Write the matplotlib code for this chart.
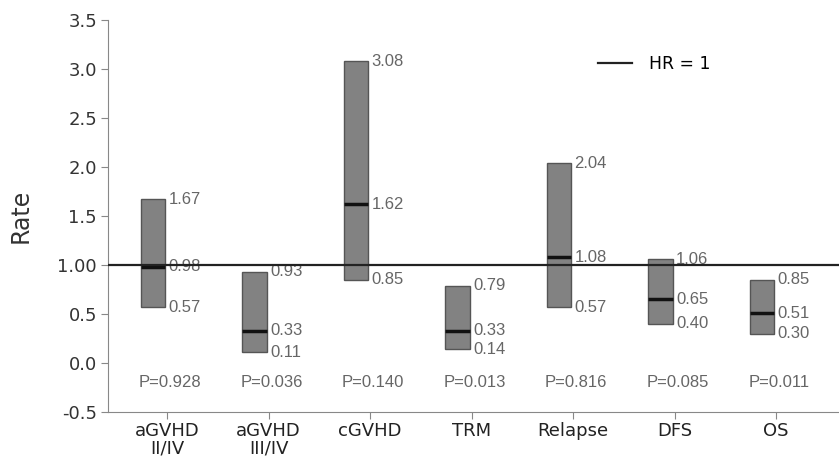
import matplotlib.pyplot as plt
import numpy as np

#=========================================#
cats = ['aGVHD\nII/IV', 'aGVHD\nIII/IV', 'cGVHD', 'TRM', 'Relapse', 'DFS', 'OS']
low = [0.57, 0.11, 0.85, 0.14, 0.57, 0.40, 0.30]
mid = [0.98, 0.33, 1.62, 0.33, 1.08, 0.65, 0.51]
high = [1.67, 0.93, 3.08, 0.79, 2.04, 1.06, 0.85]
low_txt = ['0.57', '0.11', '0.85', '0.14', '0.57', '0.40', '0.30']
mid_txt = ['0.98', '0.33', '1.62', '0.33', '1.08', '0.65', '0.51']
high_txt = ['1.67', '0.93', '3.08', '0.79', '2.04', '1.06', '0.85']
pvals = ['P=0.928', 'P=0.036', 'P=0.140', 'P=0.013', 'P=0.816', 'P=0.085', 'P=0.011']
yticks = [-0.5, 0.0, 0.5, 1.0, 1.5, 2.0, 2.5, 3.0, 3.5]
ytick_labels = ['-0.5', '0.0', '0.5', '1.00', '1.5', '2.0', '2.5', '3.0', '3.5']
#=========================================#

lab_font = 'Liberation Sans'
grey_txt = '#666666'

fig = plt.figure(figsize=(8.39, 4.62), dpi=100)
ax = fig.add_axes([0.129, 0.108, 0.871, 0.849])

x = np.arange(len(cats))
off = -0.14
w = 0.24

ax.bar(x + off, np.array(high) - np.array(low), bottom=low, width=w,
       color='#828282', edgecolor='#555555', linewidth=1.0, zorder=3)
for i in range(len(cats)):
    ax.plot([x[i] + off - w / 2, x[i] + off + w / 2], [mid[i], mid[i]],
            color='#111111', lw=2.5, zorder=4, solid_capstyle='butt')
    tx = x[i] + off + w / 2 + 0.035
    ax.text(tx, high[i], high_txt[i], va='center', ha='left', fontsize=12,
            color=grey_txt, family=lab_font)
    ax.text(tx, mid[i], mid_txt[i], va='center', ha='left', fontsize=12,
            color=grey_txt, family=lab_font)
    ax.text(tx, low[i], low_txt[i], va='center', ha='left', fontsize=12,
            color=grey_txt, family=lab_font)
    ax.text(x[i] + 0.03, -0.2, pvals[i], va='center', ha='center', fontsize=12,
            color=grey_txt, family=lab_font)

ax.axhline(1.0, color='#222222', lw=1.6, zorder=5, label='HR = 1')

ax.set_xlim(-0.58, 6.62)
ax.set_ylim(-0.5, 3.5)
ax.set_xticks(x)
ax.set_xticklabels(cats, fontsize=13, color='#222222', linespacing=1.0)
ax.set_yticks(yticks)
ax.set_yticklabels(ytick_labels, fontsize=13, color='#333333')
ax.set_ylabel('Rate', fontsize=17, color='#333333')
ax.yaxis.set_label_coords(-0.104, 0.5)

for s in ['top', 'right']:
    ax.spines[s].set_visible(False)
for s in ['left', 'bottom']:
    ax.spines[s].set_color('#888888')
ax.tick_params(axis='both', color='#888888', length=5)
ax.tick_params(axis='x', pad=2)
ax.tick_params(axis='y', pad=3)

ax.legend(loc='center left', bbox_to_anchor=(0.702, 0.8615),
          bbox_transform=fig.transFigure, frameon=False, borderpad=0,
          fontsize=12.4, handlelength=2.0, handletextpad=1.0)

plt.savefig('out.png', format='png', dpi=100)
